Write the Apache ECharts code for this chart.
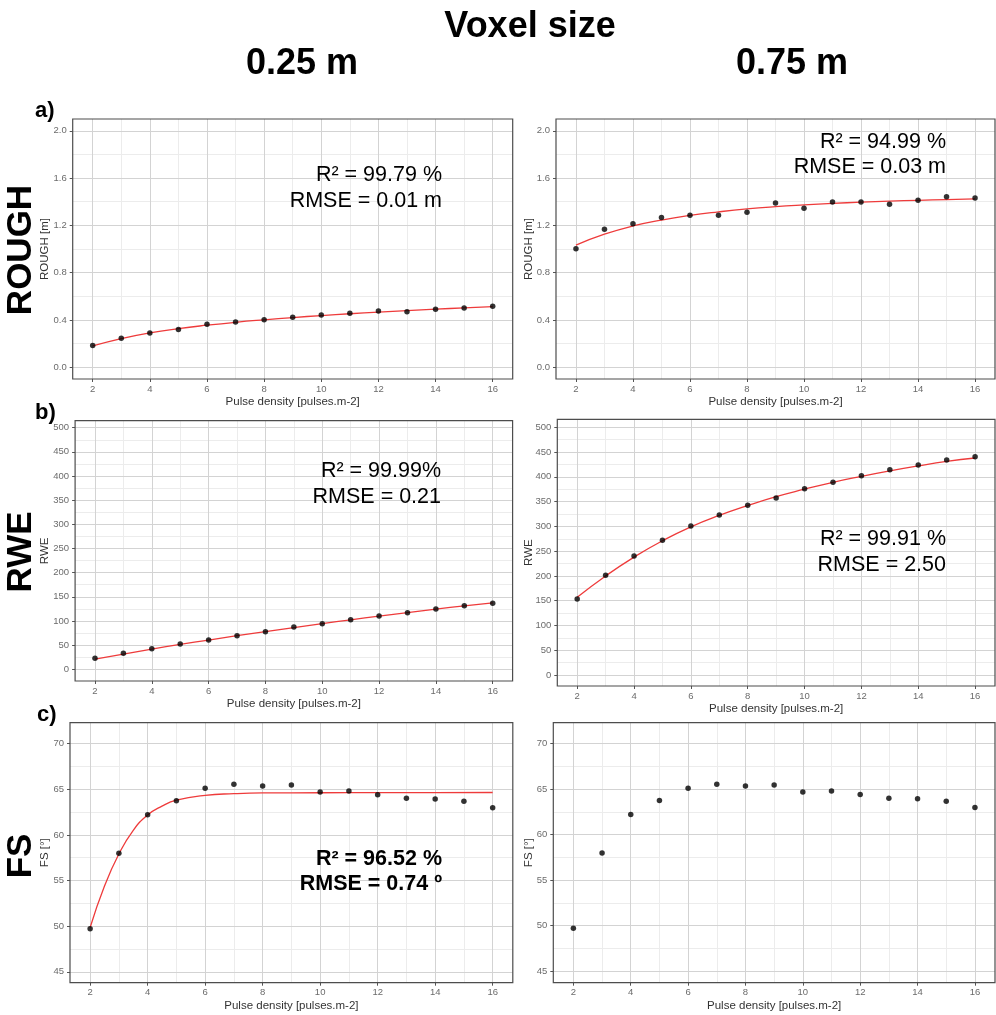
<!DOCTYPE html>
<html>
<head>
<meta charset="utf-8">
<script src="https://cdn.jsdelivr.net/npm/echarts@6/dist/echarts.min.js"></script>
<style>
  html, body { margin: 0; padding: 0; background: #ffffff; }
  #chart { width: 996px; height: 1015px; }
</style>
</head>
<body>
<div id="chart"></div>
<script>
// Pulse density values shared by every panel
const pulseDensity = [2, 3, 4, 5, 6, 7, 8, 9, 10, 11, 12, 13, 14, 15, 16];

// Tick labels and minor grid positions
const xTicks = [2, 4, 6, 8, 10, 12, 14, 16];
const xMinor = [3, 5, 7, 9, 11, 13, 15];
const roughTicks = [0, 0.4, 0.8, 1.2, 1.6, 2.0];
const roughMinor = [0.2, 0.6, 1.0, 1.4, 1.8];
const rweTicks = [0, 50, 100, 150, 200, 250, 300, 350, 400, 450, 500];
const rweMinor = [25, 75, 125, 175, 225, 275, 325, 375, 425, 475];
const fsTicks = [45, 50, 55, 60, 65, 70];
const fsMinor = [47.5, 52.5, 57.5, 62.5, 67.5];

// ROUGH [m]
const rough025 = [0.183, 0.245, 0.290, 0.318, 0.363, 0.383, 0.402, 0.423, 0.442, 0.456, 0.476, 0.470, 0.490, 0.501, 0.516];
const rough025Fit = [0.180, 0.242, 0.290, 0.326, 0.355, 0.380, 0.401, 0.420, 0.437, 0.452, 0.466, 0.479, 0.491, 0.502, 0.512];
const rough075 = [1.002, 1.168, 1.213, 1.266, 1.286, 1.286, 1.311, 1.390, 1.345, 1.398, 1.398, 1.379, 1.413, 1.443, 1.432];
const rough075Fit = [1.033, 1.125, 1.195, 1.245, 1.284, 1.314, 1.339, 1.358, 1.373, 1.386, 1.396, 1.405, 1.412, 1.418, 1.424];

// RWE
const rwe025 = [22.8, 33.1, 42.7, 52.4, 60.6, 69.6, 77.8, 87.5, 94.4, 102.7, 110.3, 117.1, 124.8, 131.6, 136.6];
const rwe025Fit = [21.0, 31.5, 41.8, 51.5, 60.6, 69.5, 78.0, 86.4, 94.5, 102.4, 110.0, 117.4, 124.5, 131.3, 137.6];
const rwe075 = [153.4, 201.2, 240.2, 271.9, 300.8, 323.0, 342.5, 357.3, 376.1, 388.9, 402.3, 414.4, 423.9, 434.0, 440.7];
const rwe075Fit = [157, 200, 238, 271, 299, 322, 342, 360, 375, 389, 401, 412, 422, 431, 438];

// FS [°] (same observations at both voxel sizes)
const fs025 = [49.71, 57.98, 62.21, 63.75, 65.11, 65.55, 65.36, 65.47, 64.70, 64.81, 64.41, 64.01, 63.94, 63.68, 62.98];
const fs075 = [49.71, 57.98, 62.21, 63.75, 65.11, 65.55, 65.36, 65.47, 64.70, 64.81, 64.41, 64.01, 63.94, 63.68, 62.98];
const fsFitX = [2, 2.5, 3.0, 3.5, 4.0, 4.5, 5.0, 6.0, 7.0, 8.0, 10, 12, 14, 16];
const fsFit025 = [49.85, 54.4, 57.9, 60.5, 62.18, 63.15, 63.8, 64.34, 64.52, 64.60, 64.62, 64.63, 64.64, 64.65];

const FONT = '"Liberation Sans", Arial, Helvetica, sans-serif';
const xTitle = 'Pulse density [pulses.m-2]';
const xRange = [1.3, 16.7];

const panels = [
  { box: [72.7, 119, 440, 260], yr: [-0.1, 2.1], ticks: roughTicks, minor: roughMinor, dec: 1,
    yName: 'ROUGH [m]', yGap: 22, obsX: pulseDensity, obs: rough025, fitX: pulseDensity, fit: rough025Fit },
  { box: [556, 119, 439, 260], yr: [-0.1, 2.1], ticks: roughTicks, minor: roughMinor, dec: 1,
    yName: 'ROUGH [m]', yGap: 21, obsX: pulseDensity, obs: rough075, fitX: pulseDensity, fit: rough075Fit },
  { box: [75.1, 420.7, 437.5, 260.3], yr: [-24.2, 514.5], ticks: rweTicks, minor: rweMinor, dec: 0,
    yName: 'RWE', yGap: 24, obsX: pulseDensity, obs: rwe025, fitX: pulseDensity, fit: rwe025Fit },
  { box: [557.3, 419.3, 437.7, 266.7], yr: [-22.2, 516.1], ticks: rweTicks, minor: rweMinor, dec: 0,
    yName: 'RWE', yGap: 22, obsX: pulseDensity, obs: rwe075, fitX: pulseDensity, fit: rwe075Fit },
  { box: [70, 722.7, 442.8, 260], yr: [43.8, 72.3], ticks: fsTicks, minor: fsMinor, dec: 0,
    yName: 'FS [°]', yGap: 19, obsX: pulseDensity, obs: fs025, fitX: fsFitX, fit: fsFit025 },
  { box: [553.3, 722.7, 441.7, 260], yr: [43.71, 72.31], ticks: fsTicks, minor: fsMinor, dec: 0,
    yName: 'FS [°]', yGap: 18, obsX: pulseDensity, obs: fs075, fitX: null, fit: null }
];

const MAJOR = '#d3d3d3';
const MINOR = '#ececec';
const zip = (xs, ys) => xs.map((x, k) => [x, ys[k]]);

const grids = [], xAxes = [], yAxes = [], series = [];

panels.forEach((p, i) => {
  grids.push({
    left: p.box[0], top: p.box[1], width: p.box[2], height: p.box[3],
    show: true, borderColor: '#4d4d4d', borderWidth: 1.2,
    backgroundColor: 'rgba(0,0,0,0)', z: 4,
    containLabel: false, outerBoundsMode: 'none'
  });
  xAxes.push({
    type: 'value', gridIndex: i, min: xRange[0], max: xRange[1],
    axisLine: { show: false, onZero: false },
    axisTick: { show: true, customValues: xTicks, length: 3, lineStyle: { color: '#555', width: 1 } },
    axisLabel: { customValues: xTicks, margin: 5, color: '#6b6b6b', fontSize: 9.5, fontFamily: FONT },
    splitLine: { show: false },
    name: xTitle, nameLocation: 'middle', nameGap: 17, nameMoveOverlap: false,
    nameTextStyle: { color: '#333', fontSize: 11.5, fontFamily: FONT }
  });
  yAxes.push({
    type: 'value', gridIndex: i, min: p.yr[0], max: p.yr[1],
    axisLine: { show: false, onZero: false },
    axisTick: { show: true, customValues: p.ticks, length: 3, lineStyle: { color: '#555', width: 1 } },
    axisLabel: {
      customValues: p.ticks, margin: 6, color: '#6b6b6b', fontSize: 9.5, fontFamily: FONT,
      formatter: v => Number(v).toFixed(p.dec)
    },
    splitLine: { show: false },
    name: p.yName, nameLocation: 'middle', nameGap: p.yGap, nameMoveOverlap: false,
    nameTextStyle: { color: '#333', fontSize: 11.5, fontFamily: FONT }
  });

  // panel grid lines, drawn through the axes' own scales
  const gridLines = []
    .concat(xMinor.map(v => ({ xAxis: v, lineStyle: { color: MINOR } })))
    .concat(p.minor.map(v => ({ yAxis: v, lineStyle: { color: MINOR } })))
    .concat(xTicks.map(v => ({ xAxis: v, lineStyle: { color: MAJOR } })))
    .concat(p.ticks.map(v => ({ yAxis: v, lineStyle: { color: MAJOR } })));

  series.push({
    type: 'scatter', xAxisIndex: i, yAxisIndex: i,
    data: zip(p.obsX, p.obs),
    symbol: 'circle', symbolSize: 5.5, clip: false,
    itemStyle: { color: '#000000' }, z: 3, silent: true,
    markLine: {
      silent: true, symbol: ['none', 'none'], z: 1, animation: false,
      label: { show: false }, emphasis: { disabled: true },
      lineStyle: { type: 'solid', width: 1, color: MAJOR },
      data: gridLines
    }
  });
  if (p.fit) {
    series.push({
      type: 'line', xAxisIndex: i, yAxisIndex: i,
      data: zip(p.fitX, p.fit),
      smooth: 0.5,
      showSymbol: false, symbol: 'none', silent: true,
      lineStyle: { color: '#ee3b3b', width: 1.3 }, z: 2
    });
  }
});

// Page texts: title, column headers, row names, panel letters, fit statistics
function txt(text, x, y, size, opts) {
  opts = opts || {};
  return {
    type: 'text', x: x, y: y, rotation: opts.rot || 0, silent: true, z: 20,
    style: {
      text: text, x: 0, y: 0,
      fontSize: size, fontWeight: opts.bold ? 'bold' : 'normal', fontFamily: FONT,
      fill: '#000000',
      align: opts.align || 'center', textAlign: opts.align || 'center',
      verticalAlign: 'middle', textVerticalAlign: 'middle'
    }
  };
}

const graphics = [
  txt('Voxel size', 530, 27, 36, { bold: true }),
  txt('0.25 m', 302, 64, 36, { bold: true }),
  txt('0.75 m', 792, 64, 36, { bold: true }),
  txt('ROUGH', 21, 250, 35, { bold: true, rot: Math.PI / 2 }),
  txt('RWE', 21, 552, 35, { bold: true, rot: Math.PI / 2 }),
  txt('FS', 21, 856, 35, { bold: true, rot: Math.PI / 2 }),
  txt('a)', 35, 111, 22, { bold: true, align: 'left' }),
  txt('b)', 35, 413, 22, { bold: true, align: 'left' }),
  txt('c)', 37, 715, 22, { bold: true, align: 'left' }),
  txt('R² = 99.79 %', 442, 175, 21.5, { align: 'right' }),
  txt('RMSE = 0.01 m', 442, 201, 21.5, { align: 'right' }),
  txt('R² = 94.99 %', 946, 142, 21.5, { align: 'right' }),
  txt('RMSE = 0.03 m', 946, 167, 21.5, { align: 'right' }),
  txt('R² = 99.99%', 441, 471, 21.5, { align: 'right' }),
  txt('RMSE = 0.21', 441, 497, 21.5, { align: 'right' }),
  txt('R² = 99.91 %', 946, 539, 21.5, { align: 'right' }),
  txt('RMSE = 2.50', 946, 565, 21.5, { align: 'right' }),
  txt('R² = 96.52 %', 442, 859, 21.5, { bold: true, align: 'right' }),
  txt('RMSE = 0.74 º', 442, 884, 21.5, { bold: true, align: 'right' })
];

const chart = echarts.init(document.getElementById('chart'), null, { renderer: 'canvas' });
chart.setOption({
  animation: false,
  backgroundColor: '#ffffff',
  textStyle: { fontFamily: FONT },
  grid: grids,
  xAxis: xAxes,
  yAxis: yAxes,
  series: series,
  graphic: graphics
});
</script>
</body>
</html>
